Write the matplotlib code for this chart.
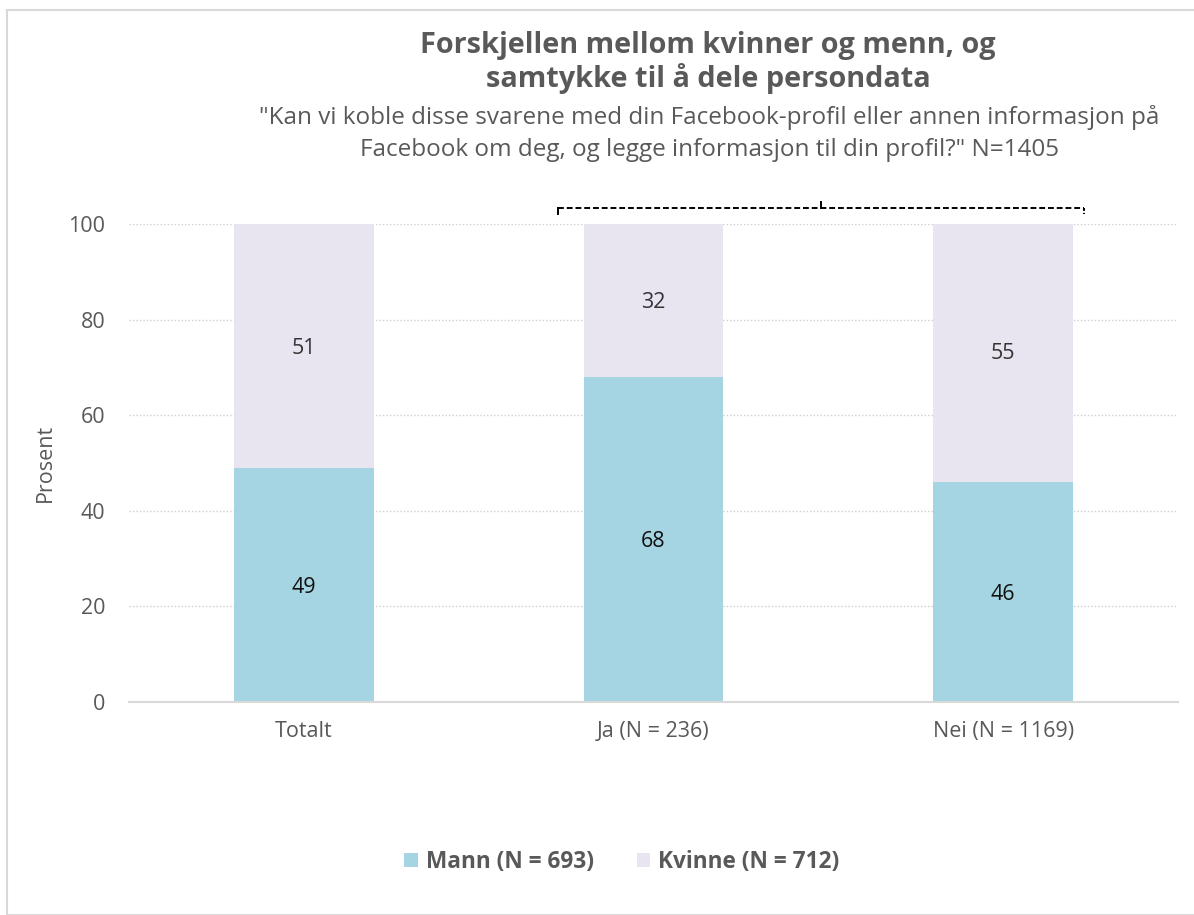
import matplotlib
matplotlib.use("Agg")
import matplotlib.pyplot as plt
from matplotlib.patches import Rectangle
import numpy as np

categories = ["Totalt", "Ja (N = 236)", "Nei (N = 1169)"]
mann = [49, 68, 46]
kvinne = [51, 32, 55]
series_names = ["Mann (N = 693)", "Kvinne (N = 712)"]
yticks = [0, 20, 40, 60, 80, 100]

plt.rcParams['font.family'] = ['Open Sans', 'DejaVu Sans']
gray = "#595959"
c_mann = "#A5D5E2"
c_kvinne = "#E8E4F0"

fig = plt.figure(figsize=(11.94, 9.15), dpi=100)
ax = fig.add_axes([129/1194, 1-702/915, 1049/1194, 478/915])

x = np.arange(len(categories))
w = 0.4
ax.bar(x, mann, w, color=c_mann, label=series_names[0], zorder=2)
ax.bar(x, kvinne, w, bottom=mann, color=c_kvinne, label=series_names[1], zorder=2)

for i in range(len(categories)):
    ax.text(x[i], mann[i]/2, f"{mann[i]}", ha="center", va="center_baseline", fontsize=15.5, color="#111111")
    ax.text(x[i], mann[i] + kvinne[i]/2, f"{kvinne[i]}", ha="center", va="center_baseline", fontsize=15.5, color="#333333")

ax.set_xlim(-0.5, 2.5)
ax.set_ylim(0, 100)
ax.set_yticks(yticks)
ax.set_yticklabels([str(t) for t in yticks], fontsize=15.5, color=gray)
ax.set_xticks(x)
ax.set_xticklabels(categories, fontsize=15.5, color=gray)
ax.tick_params(axis='both', length=0)
ax.tick_params(axis='y', pad=17)
ax.tick_params(axis='x', pad=14)
for s in ["top", "right", "left"]:
    ax.spines[s].set_visible(False)
ax.spines["bottom"].set_color("#d9d9d9")
ax.spines["bottom"].set_linewidth(1.5)
ax.yaxis.grid(True, color="#d0d0d0", linestyle=(0, (1, 1.5)), linewidth=1, zorder=0)
ax.set_axisbelow(True)
ax.set_ylabel("Prosent", fontsize=15.5, color=gray, labelpad=9)

# bracket
bx0, bx1, bxc = 0.726, 2.231, 1.48
by, bend, btop = 103.3, 102.1, 104.6
kw = dict(color="black", linewidth=1.4, clip_on=False)
ax.plot([bx0, bx1], [by, by], linestyle=(0, (3, 1.5)), **kw)
ax.plot([bx0, bx0], [by, bend], **kw)
ax.plot([bx1, bx1], [by, bend], linestyle=(0, (1.5, 1)), **kw)
ax.plot([bxc, bxc], [by, btop], **kw)

fig.text(708/1194, 1-45/915, "Forskjellen mellom kvinner og menn, og", ha="center", va="center",
         fontsize=20.8, fontweight="bold", color=gray)
fig.text(708/1194, 1-79/915, "samtykke til å dele persondata", ha="center", va="center",
         fontsize=20.8, fontweight="bold", color=gray)
fig.text(709/1194, 1-118/915, "\"Kan vi koble disse svarene med din Facebook-profil eller annen informasjon på",
         ha="center", va="center", fontsize=17.5, color=gray)
fig.text(709/1194, 1-150/915, "Facebook om deg, og legge informasjon til din profil?\" N=1405",
         ha="center", va="center", fontsize=17.5, color=gray)

leg = fig.legend(loc="center", bbox_to_anchor=(622/1194, 1-862/915), ncol=2, frameon=False,
                 handlelength=0.6, handleheight=0.6, handletextpad=0.35, columnspacing=1.9,
                 prop={'size': 16.3, 'weight': 'bold'})
for t in leg.get_texts():
    t.set_color(gray)

fig.patches.append(Rectangle((7/1194, 0), 1.0, 1-10/915, transform=fig.transFigure,
                             fill=False, edgecolor="#d9d9d9", linewidth=1.5))

fig.savefig("out.png", dpi=100)
